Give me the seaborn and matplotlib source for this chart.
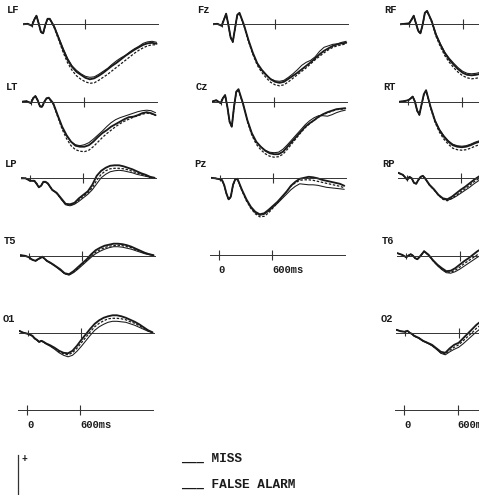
import matplotlib
matplotlib.use("Agg")
import matplotlib.pyplot as plt
import seaborn as sns

# time axis (ms) and amplitudes (uV, positive up)
times = [-100, -50, 0, 25, 50, 75, 100, 125, 150, 175, 200, 250, 300, 350, 400, 450,
         500, 550, 600, 650, 700, 750, 800, 850, 900, 950, 1000, 1050, 1100, 1150,
         1200, 1250, 1300, 1350, 1400]
times_right = times[:24]  # right column is cut off by the page edge

# left column
lf_miss = [0, 0.1, -0.3, 0.9, 1.7, 0.2, -1.5, -1.8, -0.1, 1.1, 1.1, -0.5, -2.8, -5.1, -7.1, -8.5, -9.5, -10.1,
           -10.7, -11.0, -10.8, -10.3, -9.7, -9.0, -8.3, -7.7, -7.0, -6.3, -5.7, -5.1, -4.6, -4.1, -3.8, -3.7, -3.9]
lf_fa = [0, 0.1, -0.2, 1.0, 1.8, 0.3, -1.4, -1.8, -0.2, 1.0, 1.1, -0.4, -2.6, -4.8, -6.8, -8.3, -9.2, -9.9,
         -10.4, -10.6, -10.5, -10.0, -9.4, -8.8, -8.0, -7.3, -6.7, -6.2, -5.5, -4.9, -4.4, -3.8, -3.5, -3.4, -3.6]
lf_cr = [0, 0.1, -0.3, 0.9, 1.7, 0.1, -1.6, -1.9, -0.2, 1.0, 1.0, -0.7, -3.1, -5.6, -7.7, -9.2, -10.3, -11.0,
         -11.5, -11.8, -11.7, -11.2, -10.6, -10.0, -9.3, -8.6, -7.9, -7.2, -6.5, -5.8, -5.2, -4.7, -4.3, -4.1, -4.1]

lt_miss = [0, 0.1, -0.3, 0.7, 1.1, 0.3, -0.9, -1.0, 0.0, 0.7, 0.8, -0.3, -2.7, -5.0, -6.7, -8.0, -8.8, -9.0,
           -9.0, -8.7, -8.0, -7.1, -6.3, -5.7, -5.0, -4.5, -4.0, -3.5, -3.1, -3.0, -2.7, -2.3, -2.1, -2.3, -2.7]
lt_fa = [0, 0.1, -0.2, 0.8, 1.2, 0.4, -0.8, -1.0, 0.0, 0.6, 0.7, -0.4, -2.8, -5.1, -6.8, -8.0, -8.6, -8.8,
         -8.6, -8.2, -7.5, -6.7, -5.9, -5.0, -4.2, -3.6, -3.2, -2.9, -2.6, -2.3, -2.0, -1.8, -1.7, -1.8, -2.2]
lt_cr = [0, 0.1, -0.3, 0.7, 1.1, 0.2, -1.0, -1.1, -0.1, 0.6, 0.7, -0.5, -3.0, -5.5, -7.4, -8.8, -9.6, -9.9,
         -10.0, -9.7, -9.0, -8.1, -7.2, -6.4, -5.7, -5.0, -4.4, -3.9, -3.5, -3.1, -2.8, -2.5, -2.3, -2.4, -2.7]

lp_miss = [0, 0, -0.5, -0.5, -0.5, -1.1, -1.8, -1.5, -0.7, -0.7, -1.0, -2.3, -2.9, -4.0, -5.1, -5.2, -4.9, -4.0,
           -3.3, -2.6, -1.3, 0.5, 1.5, 2.1, 2.5, 2.6, 2.6, 2.4, 2.1, 1.8, 1.4, 1.0, 0.7, 0.3, 0.1]
lp_fa = [0.1, 0, -0.4, -0.5, -0.6, -1.2, -1.8, -1.4, -0.7, -0.8, -1.1, -2.4, -3.0, -4.2, -5.3, -5.5, -5.2, -4.6,
         -3.9, -3.2, -2.3, -1.1, 0.1, 0.8, 1.3, 1.5, 1.6, 1.5, 1.3, 1.1, 0.8, 0.6, 0.4, 0.2, 0.0]
lp_cr = [0, 0, -0.5, -0.4, -0.5, -1.0, -1.7, -1.5, -0.8, -0.8, -1.0, -2.3, -3.0, -4.1, -5.2, -5.4, -5.1, -4.3,
         -3.6, -2.9, -1.9, -0.4, 0.8, 1.5, 1.9, 2.0, 2.0, 1.9, 1.7, 1.4, 1.1, 0.8, 0.5, 0.2, 0.0]

t5_miss = [0.1, 0, -0.3, -0.7, -0.9, -1.0, -0.7, -0.5, -0.2, -0.6, -1.0, -1.5, -2.1, -2.7, -3.5, -3.7, -3.1, -2.3,
           -1.5, -0.7, 0.3, 1.1, 1.6, 2.0, 2.2, 2.4, 2.4, 2.3, 2.1, 1.8, 1.4, 1.0, 0.6, 0.3, 0.1]
t5_fa = [0.1, 0, -0.3, -0.6, -0.9, -1.1, -0.8, -0.5, -0.3, -0.6, -1.1, -1.6, -2.2, -2.9, -3.6, -3.9, -3.4, -2.7,
         -1.9, -1.1, -0.3, 0.4, 0.9, 1.3, 1.6, 1.8, 1.8, 1.7, 1.5, 1.3, 1.0, 0.7, 0.4, 0.2, 0.0]
t5_cr = [0.1, 0, -0.3, -0.7, -0.9, -1.0, -0.7, -0.4, -0.2, -0.6, -1.0, -1.5, -2.1, -2.8, -3.6, -3.8, -3.3, -2.5,
         -1.7, -0.9, -0.1, 0.7, 1.2, 1.6, 1.9, 2.0, 2.1, 2.0, 1.8, 1.6, 1.2, 0.9, 0.5, 0.3, 0.1]

o1_miss = [0.5, 0.1, -0.1, -0.3, -0.5, -1.0, -1.3, -1.7, -1.5, -1.7, -2.0, -2.4, -2.9, -3.5, -3.9, -4.0, -3.5, -2.5,
           -1.3, -0.2, 0.9, 1.9, 2.6, 3.1, 3.4, 3.6, 3.6, 3.4, 3.1, 2.7, 2.3, 1.8, 1.2, 0.6, 0.2]
o1_fa = [0.5, 0.1, -0.1, -0.3, -0.6, -1.1, -1.4, -1.8, -1.6, -1.8, -2.1, -2.6, -3.2, -3.9, -4.4, -4.7, -4.4, -3.6,
         -2.6, -1.5, -0.4, 0.6, 1.3, 1.8, 2.2, 2.4, 2.4, 2.3, 2.2, 1.9, 1.6, 1.2, 0.8, 0.4, 0.1]
o1_cr = [0.5, 0.1, -0.1, -0.3, -0.5, -1.0, -1.3, -1.7, -1.5, -1.7, -2.0, -2.5, -3.0, -3.7, -4.1, -4.3, -3.9, -3.0,
         -1.9, -0.8, 0.3, 1.3, 2.0, 2.5, 2.9, 3.0, 3.0, 2.9, 2.7, 2.3, 2.0, 1.5, 1.0, 0.5, 0.1]

# middle column
fz_miss = [0, 0.1, -0.3, 0.9, 2.1, -0.1, -2.6, -3.5, -0.8, 1.9, 2.3, -0.1, -3.1, -5.7, -7.8, -9.1, -10.1, -11.0,
           -11.5, -11.7, -11.5, -10.9, -10.3, -9.7, -9.0, -8.3, -7.6, -6.8, -6.0, -5.3, -4.8, -4.3, -4.0, -3.8, -3.7]
fz_fa = [0, 0.1, -0.2, 1.0, 2.2, 0.0, -2.5, -3.4, -0.8, 1.8, 2.2, -0.2, -3.2, -5.8, -7.9, -9.2, -10.2, -10.9,
         -11.3, -11.4, -11.2, -10.6, -9.9, -9.1, -8.2, -7.6, -7.2, -6.5, -5.4, -4.6, -4.3, -4.0, -3.9, -3.6, -3.4]
fz_cr = [0, 0.1, -0.3, 0.9, 2.0, -0.2, -2.7, -3.6, -0.9, 1.8, 2.2, -0.3, -3.4, -6.0, -8.2, -9.6, -10.7, -11.6,
         -12.1, -12.3, -12.1, -11.5, -10.8, -10.1, -9.4, -8.7, -7.9, -7.1, -6.4, -5.7, -5.1, -4.6, -4.3, -4.1, -3.9]

cz_miss = [0, 0.3, -0.3, 0.7, 1.3, -1.0, -4.0, -5.0, -1.0, 2.0, 2.5, -0.3, -3.7, -6.3, -8.0, -9.0, -9.8, -10.3,
           -10.5, -10.5, -10.0, -9.0, -8.0, -7.0, -6.0, -5.0, -4.3, -3.7, -3.0, -2.5, -2.1, -1.8, -1.5, -1.4, -1.3]
cz_fa = [0, 0.2, -0.2, 0.8, 1.4, -0.9, -3.9, -4.9, -1.0, 1.9, 2.4, -0.4, -3.8, -6.4, -8.1, -9.0, -9.7, -10.1,
         -10.2, -10.1, -9.5, -8.6, -7.6, -6.6, -5.6, -4.6, -3.8, -3.2, -2.8, -2.8, -2.9, -2.6, -2.2, -1.9, -1.7]
cz_cr = [0, 0.3, -0.3, 0.7, 1.3, -1.1, -4.1, -5.1, -1.1, 1.9, 2.4, -0.5, -4.0, -6.7, -8.5, -9.6, -10.4, -10.9,
         -11.1, -11.0, -10.5, -9.5, -8.4, -7.3, -6.2, -5.2, -4.4, -3.7, -3.1, -2.6, -2.2, -1.9, -1.6, -1.5, -1.4]

pz_miss = [0.1, 0, -0.2, -0.3, -1.3, -3.0, -4.2, -3.7, -1.3, -0.2, -0.1, -2.3, -4.2, -5.7, -6.7, -7.2, -7.0, -6.3,
           -5.5, -4.7, -3.7, -2.7, -1.5, -0.7, -0.1, 0.1, 0.3, 0.2, 0.0, -0.3, -0.5, -0.7, -0.9, -1.1, -1.5]
pz_fa = [0.1, 0, -0.2, -0.4, -1.4, -3.1, -4.2, -3.6, -1.2, -0.2, -0.2, -2.4, -4.3, -5.9, -6.9, -7.4, -7.2, -6.6,
         -5.8, -5.0, -4.1, -3.2, -2.3, -1.6, -1.1, -1.2, -1.3, -1.3, -1.4, -1.6, -1.8, -1.9, -2.0, -2.1, -2.2]
pz_cr = [0.1, 0, -0.2, -0.3, -1.3, -3.0, -4.3, -3.8, -1.4, -0.3, -0.2, -2.5, -4.5, -6.0, -7.1, -7.7, -7.6, -6.9,
         -5.9, -4.9, -3.8, -2.7, -1.6, -0.9, -0.4, -0.3, -0.3, -0.4, -0.6, -0.8, -1.0, -1.2, -1.4, -1.6, -1.9]

# right column (only up to ~850 ms is on the page)
rf_miss = [0, 0.1, 0.2, 0.9, 1.7, 0.2, -1.3, -1.8, -0.1, 2.3, 2.7, 0.7, -2.1, -4.1, -5.8, -7.1, -8.1, -9.0,
           -9.7, -10.1, -10.2, -10.1, -9.9, -9.6]
rf_fa = [0, 0.1, 0.2, 1.0, 1.8, 0.3, -1.2, -1.7, 0.0, 2.2, 2.6, 0.8, -1.9, -3.9, -5.6, -6.8, -7.8, -8.7,
         -9.4, -9.8, -9.9, -9.8, -9.6, -9.3]
rf_cr = [0, 0.1, 0.2, 0.9, 1.6, 0.1, -1.4, -1.9, -0.2, 2.2, 2.6, 0.5, -2.4, -4.5, -6.3, -7.6, -8.7, -9.6,
         -10.3, -10.7, -10.9, -10.8, -10.6, -10.3]

rt_miss = [0, 0.1, 0.3, 0.6, 1.0, 0.0, -1.8, -2.6, -0.5, 1.5, 2.3, -1.0, -3.8, -5.7, -7.0, -8.0, -8.7, -9.0,
           -9.1, -9.0, -8.7, -8.3, -8.0, -7.6]
rt_fa = [0, 0.1, 0.3, 0.7, 1.1, 0.1, -1.7, -2.5, -0.5, 1.4, 2.2, -1.1, -3.7, -5.5, -6.8, -7.8, -8.5, -8.8,
         -8.9, -8.8, -8.5, -8.1, -7.8, -7.4]
rt_cr = [0, 0.1, 0.3, 0.6, 1.0, 0.0, -1.9, -2.7, -0.6, 1.4, 2.2, -1.2, -4.1, -6.1, -7.5, -8.5, -9.3, -9.6,
         -9.7, -9.6, -9.3, -8.9, -8.6, -8.2]

rp_miss = [1.1, 0.7, -0.3, 0.3, 0, -0.9, -1.1, -0.3, 0.3, 0.5, 0, -1.3, -2.2, -3.3, -4.0, -4.2, -3.7, -3.0,
           -2.3, -1.7, -1.0, -0.3, 0.3, 0.8]
rp_fa = [1.0, 0.7, -0.2, 0.3, -0.1, -0.9, -1.0, -0.3, 0.2, 0.5, -0.1, -1.4, -2.3, -3.4, -4.1, -4.4, -4.1, -3.6,
         -3.0, -2.4, -1.8, -1.1, -0.5, 0.1]
rp_cr = [1.1, 0.7, -0.3, 0.3, 0, -0.9, -1.1, -0.4, 0.3, 0.4, 0, -1.4, -2.3, -3.4, -4.2, -4.5, -4.0, -3.4,
         -2.7, -2.1, -1.4, -0.7, -0.1, 0.5]

t6_miss = [0.5, 0.2, -0.3, 0, 0.3, 0, -0.5, -0.7, -0.2, 0.3, 0.9, 0.2, -0.9, -1.8, -2.5, -3.1, -3.0, -2.5,
           -1.8, -1.1, -0.5, 0.2, 0.9, 1.4]
t6_fa = [0.5, 0.2, -0.3, 0.1, 0.3, 0, -0.5, -0.7, -0.3, 0.3, 0.8, 0.1, -1.0, -2.0, -2.8, -3.4, -3.5, -3.2,
         -2.7, -2.1, -1.5, -0.9, -0.3, 0.2]
t6_cr = [0.5, 0.2, -0.3, 0, 0.3, 0, -0.5, -0.7, -0.2, 0.3, 0.9, 0.1, -1.0, -1.9, -2.7, -3.3, -3.3, -2.9,
         -2.3, -1.6, -1.0, -0.4, 0.2, 0.7]

o2_miss = [0.7, 0.4, 0.3, 0.5, 0.1, -0.1, -0.5, -0.7, -0.9, -1.2, -1.5, -1.9, -2.3, -3.0, -3.7, -3.9, -3.0, -2.3,
           -1.9, -1.0, -0.1, 0.8, 1.7, 2.4]
o2_fa = [0.7, 0.4, 0.3, 0.5, 0.1, -0.2, -0.6, -0.8, -1.0, -1.3, -1.6, -2.0, -2.5, -3.2, -4.0, -4.3, -3.7, -3.2,
         -2.8, -2.1, -1.3, -0.5, 0.3, 1.0]
o2_cr = [0.7, 0.4, 0.3, 0.5, 0.1, -0.1, -0.5, -0.7, -0.9, -1.2, -1.5, -1.9, -2.4, -3.1, -3.9, -4.1, -3.4, -2.8,
         -2.3, -1.5, -0.7, 0.1, 1.0, 1.7]

# (label, column, row, miss, false alarm, third condition)
panels = [
    ("LF", 0, 0, lf_miss, lf_fa, lf_cr), ("LT", 0, 1, lt_miss, lt_fa, lt_cr),
    ("LP", 0, 2, lp_miss, lp_fa, lp_cr), ("T5", 0, 3, t5_miss, t5_fa, t5_cr),
    ("O1", 0, 4, o1_miss, o1_fa, o1_cr),
    ("Fz", 1, 0, fz_miss, fz_fa, fz_cr), ("Cz", 1, 1, cz_miss, cz_fa, cz_cr),
    ("Pz", 1, 2, pz_miss, pz_fa, pz_cr),
    ("RF", 2, 0, rf_miss, rf_fa, rf_cr), ("RT", 2, 1, rt_miss, rt_fa, rt_cr),
    ("RP", 2, 2, rp_miss, rp_fa, rp_cr), ("T6", 2, 3, t6_miss, t6_fa, t6_cr),
    ("O2", 2, 4, o2_miss, o2_fa, o2_cr),
]

# page geometry in pixels
W, H = 479, 495
MS_PX = 0.089      # px per ms
UV_PX = 5.0        # px per uV
XLIM = (-100, 1420)
YLIM = (-13.5, 4.0)
COL_X0 = [32.3, 222.0, 409.6]    # x of time zero per column
ROW_Y = [24.3, 101.7, 178.3, 255.7, 333.3]
SKEW = 0.013                     # scan is slightly rotated

sns.set_style("white")
plt.rcParams['font.family'] = ['Liberation Mono', 'DejaVu Sans Mono']
INK = "#1a1a1a"

fig = plt.figure(figsize=(W / 100, H / 100), dpi=100)
fig.patch.set_facecolor("white")


def make_axes(col, y_base, ylim):
    x0 = COL_X0[col] - SKEW * y_base
    left = x0 + XLIM[0] * MS_PX
    width = (XLIM[1] - XLIM[0]) * MS_PX
    top = y_base - ylim[1] * UV_PX
    height = (ylim[1] - ylim[0]) * UV_PX
    ax = fig.add_axes([left / W, 1 - (top + height) / H, width / W, height / H])
    ax.patch.set_alpha(0)
    for s in ["left", "right", "top"]:
        ax.spines[s].set_visible(False)
    ax.spines["bottom"].set_position(("data", 0))
    ax.spines["bottom"].set_linewidth(0.7)
    ax.spines["bottom"].set_color("#333333")
    ax.set_yticks([])
    return ax, x0


for label, col, row, miss, fa, cr in panels:
    y_base = ROW_Y[row]
    ax, x0 = make_axes(col, y_base, YLIM)
    t = times if col < 2 else times_right
    sns.lineplot(x=t, y=cr, ax=ax, color=INK, linewidth=0.9, linestyle=(0, (2.0, 1.3)))
    sns.lineplot(x=t, y=fa, ax=ax, color=INK, linewidth=0.75)
    sns.lineplot(x=t, y=miss, ax=ax, color=INK, linewidth=1.35)
    ax.set_xlim(XLIM)
    ax.set_ylim(YLIM)
    ax.set_xticks([600])
    ax.set_xticks([0], minor=True)
    ax.tick_params(axis="x", which="major", bottom=True, direction="inout", length=7.2, width=0.8,
                   color="#333333", labelbottom=False)
    ax.tick_params(axis="x", which="minor", bottom=True, direction="inout", length=4.3, width=0.8,
                   color="#333333", labelbottom=False)
    ax.set_xlabel("")
    ax.set_ylabel("")
    fig.text((x0 - 25) / W, 1 - (y_base - 11.7) / H, label, fontsize=7.5,
             fontweight="bold", va="baseline", ha="left", color=INK)

# time scale bars
for col, y_bar in [(0, 410.0), (1, 255.0), (2, 410.0)]:
    ax, x0 = make_axes(col, y_bar, (-1.5, 1.5))
    ax.set_xlim(XLIM)
    ax.set_ylim(-1.5, 1.5)
    ax.set_xticks([0, 600])
    ax.set_xticklabels(["0", "600ms"], ha="left", fontsize=7.5, fontweight="bold", color=INK)
    ax.tick_params(axis="x", which="major", bottom=True, direction="inout", length=6.5, width=0.8,
                   color="#333333", pad=4.0)

# amplitude calibration bar (bottom left, cut by the page edge)
cal = fig.add_axes([17.7 / W, 1 - 505 / H, 6 / W, 50 / H])
cal.patch.set_alpha(0)
for s in ["right", "top", "bottom"]:
    cal.spines[s].set_visible(False)
cal.spines["left"].set_linewidth(0.9)
cal.spines["left"].set_color("#333333")
cal.set_xticks([])
cal.set_yticks([])
fig.text(21.5 / W, 1 - 462 / H, "+", fontsize=7, fontweight="bold", color=INK, va="baseline")

# legend, typed as on the original page
fig.text(181 / W, 1 - 461.7 / H, "___ MISS", fontsize=9.2, fontweight="bold",
         va="baseline", ha="left", color=INK)
fig.text(181 / W, 1 - 487.7 / H, "___ FALSE ALARM", fontsize=9.2, fontweight="bold",
         va="baseline", ha="left", color=INK)

fig.savefig("out.png", dpi=100, facecolor="white")
